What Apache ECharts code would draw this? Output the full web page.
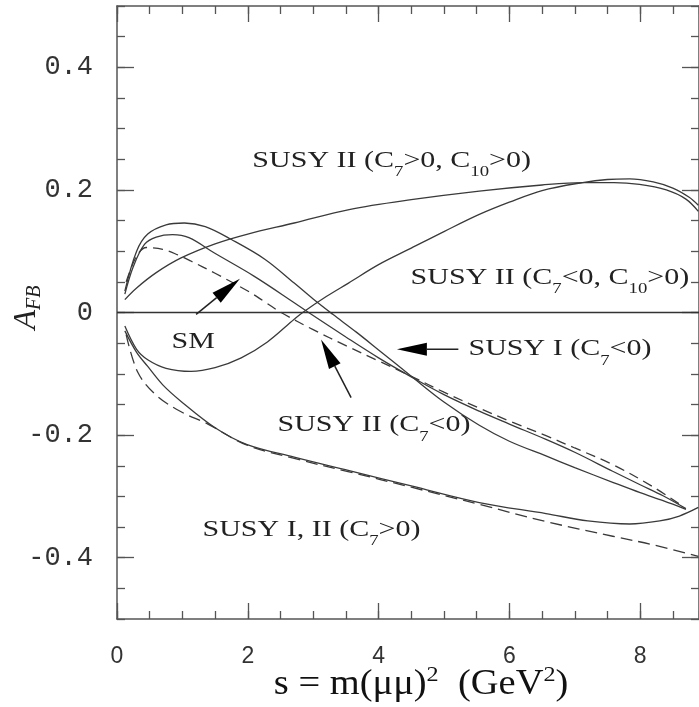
<!DOCTYPE html>
<html><head><meta charset="utf-8">
<script src="https://cdn.jsdelivr.net/npm/echarts@6/dist/echarts.min.js"></script>
<style>html,body{margin:0;padding:0;background:#fff}#c{width:699px;height:707px}</style>
</head><body><div id="c"></div>
<script>
// ---- tick labels ----
const xTickLabels = [0, 2, 4, 6, 8];
const yTickLabels = [-0.4, -0.2, 0, 0.2, 0.4];

// ---- curves: s (GeV^2) and A_FB ----
const smS = [0.14,0.3,0.45,0.7,0.93,1.13,1.5,2.0,2.25,2.51,3.0,3.5,4.0,4.5,5.0,5.54,6.0,6.56,7.0,7.58,8.19,8.65];
const smA = [0.05,0.092,0.106,0.103,0.094,0.084,0.064,0.035,0.018,0.0,-0.028,-0.054,-0.079,-0.104,-0.130,-0.156,-0.177,-0.201,-0.221,-0.248,-0.284,-0.316];

const susy1NegS = [0.12,0.3,0.47,0.75,1.03,1.35,1.75,2.26,2.71,3.0,3.3,3.66,4.0,4.5,5.0,5.54,6.0,6.56,7.0,7.58,8.0,8.35,8.7];
const susy1NegA = [0.035,0.100,0.128,0.143,0.146,0.140,0.119,0.087,0.048,0.022,-0.003,-0.032,-0.061,-0.104,-0.146,-0.184,-0.210,-0.234,-0.253,-0.277,-0.294,-0.307,-0.321];

const susy2NegS = [0.12,0.25,0.42,0.6,0.85,1.1,1.49,2.1,2.71,2.93,3.5,4.0,4.5,5.0,5.54,6.0,6.56,7.0,7.58,8.0,8.35,8.7];
const susy2NegA = [0.03,0.075,0.111,0.123,0.127,0.122,0.097,0.059,0.016,0.0,-0.040,-0.074,-0.105,-0.134,-0.161,-0.182,-0.207,-0.228,-0.259,-0.281,-0.299,-0.320];

const susy2PosPosS = [0.12,0.3,0.6,0.98,1.5,2.0,2.71,3.55,4.5,5.54,6.5,7.12,7.6,7.99,8.4,8.7,8.89];
const susy2PosPosA = [0.021,0.040,0.065,0.089,0.112,0.128,0.146,0.168,0.184,0.198,0.208,0.212,0.212,0.209,0.200,0.185,0.165];

const susy2NegPosS = [0.12,0.3,0.47,0.75,1.13,1.5,1.9,2.3,2.71,2.84,3.2,3.54,4.0,4.5,5.0,5.54,6.0,6.5,7.12,7.5,7.84,8.2,8.5,8.75,8.89];
const susy2NegPosA = [-0.022,-0.060,-0.077,-0.091,-0.096,-0.090,-0.074,-0.048,-0.011,0.0,0.026,0.048,0.078,0.105,0.132,0.160,0.180,0.199,0.212,0.217,0.218,0.213,0.203,0.188,0.175];

const susyPosSolidS = [0.12,0.3,0.47,0.7,0.98,1.5,1.98,2.71,3.55,4.5,5.54,6.56,7.2,7.84,8.3,8.6,8.89];
const susyPosSolidA = [-0.030,-0.065,-0.088,-0.118,-0.145,-0.188,-0.215,-0.236,-0.258,-0.283,-0.310,-0.328,-0.340,-0.345,-0.340,-0.332,-0.318];

const susyPosDashS = [0.14,0.32,0.6,0.98,1.39,1.98,2.71,3.55,4.5,5.54,6.56,7.58,8.2,8.89];
const susyPosDashA = [-0.036,-0.098,-0.135,-0.162,-0.182,-0.216,-0.238,-0.260,-0.285,-0.313,-0.341,-0.365,-0.379,-0.398];

// ---- annotations (data coordinates) ----
const arrowTails = [[1.21,-0.003],[3.58,-0.139],[5.22,-0.060]];
const arrowTips  = [[1.88,0.055],[3.12,-0.044],[4.28,-0.060]];
const labelTexts = [
  'SUSY II (C{s|7}>0, C{s|10}>0)',
  'SUSY II (C{s|7}<0, C{s|10}>0)',
  'SUSY I (C{s|7}<0)',
  'SM',
  'SUSY II (C{s|7}<0)',
  'SUSY I, II (C{s|7}>0)'
];
const labelPos = [[2.07,0.248],[4.49,0.057],[5.375,-0.059],[0.833,-0.047],[2.454,-0.183],[1.307,-0.354]];

const chart = echarts.init(document.getElementById('c'), null, {renderer:'canvas'});
const AX = '#555';
const LC = '#3a3a3a';
const pair = (s, a) => s.map((v, i) => [v, a[i]]);

function xAx(pos, long, withLabel){
  const o = {type:'value', position:pos, min:0, max:8.9, splitLine:{show:false},
    axisLine:{show:!long, onZero:false, lineStyle:{color:AX, width:1.5}},
    axisTick:{show:true, inside:true, length: long?16:8, lineStyle:{color:AX, width:1.3}},
    axisLabel:{show:false}};
  if (long){
    o.axisTick.customValues = xTickLabels;
    if (withLabel){ o.axisLabel = {show:true, customValues:xTickLabels, margin:26, fontSize:23, fontFamily:'Liberation Sans', color:'#333'}; }
  } else { o.interval = 0.5; }
  return o;
}
function yAx(pos, long, withLabel){
  const o = {type:'value', position:pos, min:-0.5, max:0.5, splitLine:{show:false},
    axisLine:{show:!long, onZero:false, lineStyle:{color:AX, width:1.5}},
    axisTick:{show:true, inside:true, length: long?17:8, lineStyle:{color:AX, width:1.3}},
    axisLabel:{show:false}};
  if (long){
    o.axisTick.customValues = yTickLabels;
    if (withLabel){ o.axisLabel = {show:true, customValues:yTickLabels, margin:24, fontSize:27, fontFamily:'Liberation Mono', color:'#333',
      formatter: v => (Math.abs(v) < 1e-9 ? '0' : String(v))}; }
  } else { o.interval = 0.05; }
  return o;
}

function line(s, a, dash){
  return {type:'line', xAxisIndex:0, yAxisIndex:0, data:pair(s,a), showSymbol:false, smooth:0.35, silent:true,
    lineStyle:{color:LC, width:1.3, type: dash || 'solid'}, z:3};
}

const series = [
  line(smS, smA, [10,6]),
  line(susy1NegS, susy1NegA),
  line(susy2NegS, susy2NegA),
  line(susy2PosPosS, susy2PosPosA),
  line(susy2NegPosS, susy2NegPosA),
  line(susyPosSolidS, susyPosSolidA),
  line(susyPosDashS, susyPosDashA, [12,6])
];
series[1].markLine = {silent:true, symbol:'none', label:{show:false}, lineStyle:{color:'#333', width:1.3, type:'solid'}, data:[{yAxis:0}]};

chart.setOption({
  animation:false,
  backgroundColor:'#fff',
  grid:{left:117, right:0, top:6, bottom:88},
  xAxis:[xAx('bottom',false), xAx('bottom',true,true), xAx('top',false), xAx('top',true)],
  yAxis:[yAx('left',false), yAx('left',true,true), yAx('right',false), yAx('right',true)],
  series: series
});

const conv = p => chart.convertToPixel({xAxisIndex:0, yAxisIndex:0}, p);
const g = [];
function arrow(tail, tip, headLen, headW){
  const p0 = conv(tail), p1 = conv(tip);
  const dx = p1[0]-p0[0], dy = p1[1]-p0[1], L = Math.hypot(dx, dy);
  const ux = dx/L, uy = dy/L, bx = p1[0]-ux*headLen, by = p1[1]-uy*headLen, nx = -uy, ny = ux;
  g.push({type:'line', shape:{x1:p0[0], y1:p0[1], x2:bx, y2:by}, style:{stroke:'#222', lineWidth:1.5}, z:10});
  g.push({type:'polygon', shape:{points:[[p1[0],p1[1]],[bx+nx*headW/2, by+ny*headW/2],[bx-nx*headW/2, by-ny*headW/2]]}, style:{fill:'#000'}, z:10});
}
for (let i = 0; i < arrowTails.length; i++) arrow(arrowTails[i], arrowTips[i], 30, 13);

const serif = 'Liberation Serif';
labelTexts.forEach((t, i) => {
  const p = conv(labelPos[i]);
  g.push({type:'text', x:p[0], y:p[1], scaleX:1.25, z:10, style:{text:t, fontSize:24, fontFamily:serif, fill:'#222', align:'left', verticalAlign:'middle',
    rich:{s:{fontSize:15, fontFamily:serif, fill:'#222', padding:[24,0,0,0]}}}});
});
// axis titles
const xt = conv([4.65, -0.5]);
g.push({type:'text', x:xt[0], y:xt[1]+66, scaleX:1.1, z:10, style:{text:'s = m(μμ){p|2}  (GeV{p|2})', fontSize:35, fontFamily:serif, fill:'#111', align:'center', verticalAlign:'middle',
  rich:{p:{fontSize:22, fontFamily:serif, fill:'#111', padding:[0,0,20,0]}}}});
const yt = conv([0, 0.008]);
g.push({type:'text', x:27, y:yt[1], rotation:Math.PI/2, z:10, style:{text:'A{b|FB}', fontSize:32, fontFamily:serif, fontStyle:'italic', fill:'#222', align:'center', verticalAlign:'middle',
  rich:{b:{fontSize:20, fontFamily:serif, fontStyle:'italic', fill:'#222', padding:[16,0,0,0]}}}});

chart.setOption({graphic: g});
</script></body></html>
